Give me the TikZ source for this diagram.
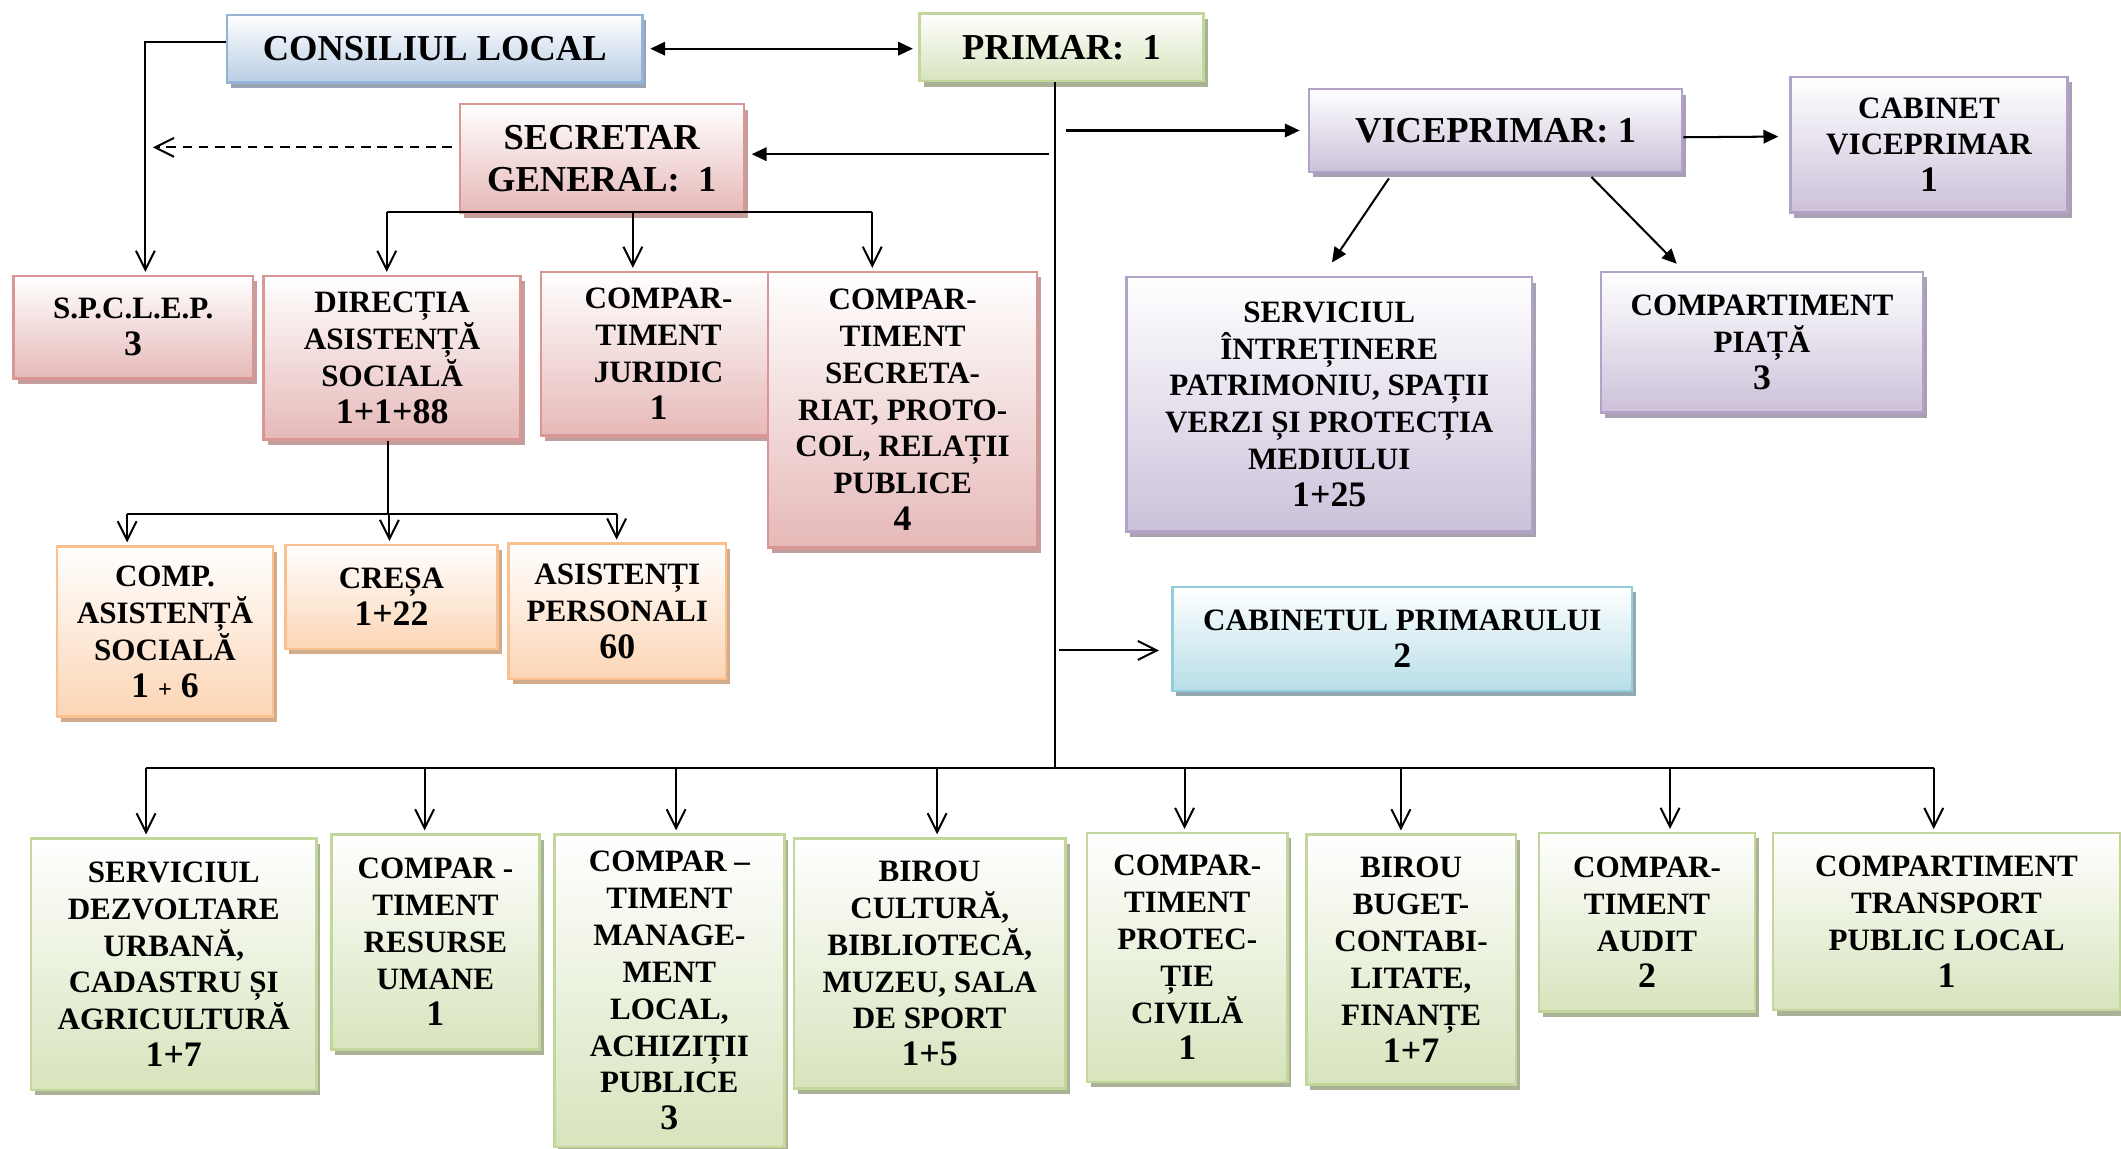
\documentclass[tikz,border=0pt]{standalone}
\usepackage{fontspec}
\setmainfont{Liberation Serif}
\usetikzlibrary{arrows.meta,shadows}
\definecolor{rbot}{HTML}{E6B9B8}\definecolor{rbrd}{HTML}{D99694}\definecolor{rsh}{HTML}{C49E9D}
\definecolor{bbot}{HTML}{B9CDE5}\definecolor{bbrd}{HTML}{95B3D7}\definecolor{bsh}{HTML}{98A4B3}
\definecolor{gbot}{HTML}{D7E4BD}\definecolor{gbrd}{HTML}{C3D69B}\definecolor{gsh}{HTML}{A9B296}
\definecolor{pbot}{HTML}{CCC1DA}\definecolor{pbrd}{HTML}{B3A2C7}\definecolor{psh}{HTML}{A8A0B3}
\definecolor{obot}{HTML}{FCD5B5}\definecolor{obrd}{HTML}{FAC090}\definecolor{osh}{HTML}{D0AB8C}
\definecolor{cbot}{HTML}{B7DEE8}\definecolor{cbrd}{HTML}{93CDDD}\definecolor{csh}{HTML}{93A9AF}
\newcommand\nm[1]{{\fontsize{26.5}{27.3}\selectfont #1}}
\newcommand\bxn[7]{\node[#2, minimum width={(#5-#3)*1pt}, minimum height={(#6-#4)*1pt}] (#1) at ({(#3+#5)/2},{(#4+#6)/2}) {#7};}
\tikzset{
  box/.style n args={3}{draw=#2, line width=1.8pt, top color=white, bottom color=#1,
    drop shadow={shadow xshift=3pt, shadow yshift=-4pt, fill=#3, opacity=1},
    align=center, inner sep=1pt, text=black, font=\bfseries\fontsize{23}{27.3}\selectfont},
  redbox/.style={box={rbot}{rbrd}{rsh}},
  bluebox/.style={box={bbot}{bbrd}{bsh}},
  greenbox/.style={box={gbot}{gbrd}{gsh}},
  purplebox/.style={box={pbot}{pbrd}{psh}},
  orangebox/.style={box={obot}{obrd}{osh}},
  cyanbox/.style={box={cbot}{cbrd}{csh}},
  bigtext/.style={font=\bfseries\fontsize{27}{31}\selectfont},
  conn/.style={draw=black, line width=1.5pt},
  oa/.style={-{Straight Barb[length=14pt,width=14pt,line width=1.5pt]}, shorten >=2pt},
  fa/.style={-{Triangle[length=11pt,width=10pt]}},
}
\begin{document}
\begin{tikzpicture}[x=1pt,y=-1pt]
\useasboundingbox (0,0) rectangle (1568.5,849);
% top row
\bxn{cl}{bluebox,bigtext}{168}{11}{475}{61}{CONSILIUL LOCAL}
\bxn{primar}{greenbox,bigtext}{680}{10}{890}{60}{PRIMAR:\ \ 1}
\bxn{sg}{redbox,bigtext}{340}{77}{550}{157}{SECRETAR\\GENERAL:\ \ 1}
\bxn{vp}{purplebox,bigtext}{968}{66}{1244}{127}{VICEPRIMAR: 1}
\bxn{cvp}{purplebox}{1324}{57}{1529}{157}{CABINET\\VICEPRIMAR\\\nm{1}}
% second row
\bxn{spclep}{redbox}{10}{204}{187}{280}{S.P.C.L.E.P.\\\nm{3}}
\bxn{dir}{redbox}{195}{204}{385}{325}{DIRECȚIA\\ASISTENȚĂ\\SOCIALĂ\\\nm{1+1+88}}
\bxn{jur}{redbox}{400}{201}{574}{322}{COMPAR-\\TIMENT\\JURIDIC\\\nm{1}}
\bxn{secr}{redbox}{568}{201}{767}{405}{COMPAR-\\TIMENT\\SECRETA-\\RIAT, PROTO-\\COL, RELAȚII\\PUBLICE\\\nm{4}}
\bxn{sip}{purplebox}{833}{205}{1133}{393}{SERVICIUL\\ÎNTREȚINERE\\PATRIMONIU, SPAȚII\\VERZI ȘI PROTECȚIA\\MEDIULUI\\\nm{1+25}}
\bxn{piata}{purplebox}{1184}{201}{1422}{305}{COMPARTIMENT\\PIAȚĂ\\\nm{3}}
% third row
\bxn{cas}{orangebox}{42}{404}{202}{530}{COMP.\\ASISTENȚĂ\\SOCIALĂ\\\nm{1 {\fontsize{18}{20}\selectfont +} 6}}
\bxn{cresa}{orangebox}{211}{403}{368}{480}{CREȘA\\\nm{1+22}}
\bxn{ap}{orangebox}{376}{402}{537}{502}{ASISTENȚI\\PERSONALI\\\nm{60}}
\bxn{cp}{cyanbox}{867}{434}{1207}{511}{CABINETUL PRIMARULUI\\\nm{2}}
% bottom row
\bxn{sdu}{greenbox}{23}{620}{234}{806}{SERVICIUL\\DEZVOLTARE\\URBANĂ,\\CADASTRU ȘI\\AGRICULTURĂ\\\nm{1+7}}
\bxn{ru}{greenbox}{245}{617}{399}{776}{COMPAR -\\TIMENT\\RESURSE\\UMANE\\\nm{1}}
\bxn{ml}{greenbox}{410}{617}{580}{848}{COMPAR –\\TIMENT\\MANAGE-\\MENT\\LOCAL,\\ACHIZIȚII\\PUBLICE\\\nm{3}}
\bxn{bc}{greenbox}{587}{620}{788}{805}{BIROU\\CULTURĂ,\\BIBLIOTECĂ,\\MUZEU, SALA\\DE SPORT\\\nm{1+5}}
\bxn{pc}{greenbox}{804}{616}{952}{800}{COMPAR-\\TIMENT\\PROTEC-\\ȚIE\\CIVILĂ\\\nm{1}}
\bxn{bb}{greenbox}{966}{617}{1121}{802}{BIROU\\BUGET-\\CONTABI-\\LITATE,\\FINANȚE\\\nm{1+7}}
\bxn{au}{greenbox}{1138}{616}{1298}{748}{COMPAR-\\TIMENT\\AUDIT\\\nm{2}}
\bxn{tr}{greenbox}{1311}{616}{1568}{747}{COMPARTIMENT\\TRANSPORT\\PUBLIC LOCAL\\\nm{1}}
% coordinates
\coordinate (trunkbot) at (780,569);
\coordinate (t1) at (776,114);
\coordinate (t2) at (788,96.5);
\coordinate (t3) at (783,481);
\coordinate (dend) at (111,109);
\coordinate (sgl) at (286,157);
\coordinate (sgr) at (645,157);
\coordinate (dl) at (94,380);
\coordinate (dr) at (456,380);
\coordinate (bl) at (108,568);
\coordinate (br) at (1430,568);
% connectors
\draw[conn,oa] ([yshift=5pt]cl.west) -| ([xshift=9pt]spclep.north);
\draw[conn,{Triangle[length=11pt,width=10pt]}-{Triangle[length=11pt,width=10pt]}] ([xshift=5pt]cl.east) -- ([xshift=-4pt,yshift=-1pt]primar.west);
\draw[conn,line width=1.3pt] ([xshift=-5pt]primar.south) -- (trunkbot);
\draw[conn,fa] (t1) -- ([xshift=5pt,yshift=3pt]sg.east);
\draw[conn,fa] (t2) -- ([xshift=-6pt]vp.west);
\draw[conn,fa] ([yshift=-5pt]vp.east) -- ([xshift=-8pt,yshift=6pt]cvp.west);
\draw[conn,fa] ([xshift=60pt,yshift=-4pt]vp.south west) -- ([xshift=2pt,yshift=10pt]sip.north);
\draw[conn,fa] ([xshift=-68pt,yshift=-3pt]vp.south east) -- ([xshift=-63pt,yshift=5pt]piata.north);
\draw[conn,dashed,dash pattern=on 7pt off 5pt,oa] ([xshift=-5pt,yshift=8pt]sg.west) -- (dend);
\draw[conn,oa] (t3) -- ([xshift=-7pt,yshift=-8.5pt]cp.west);
% secretar bus
\draw[conn] (sgl) -- (sgr);
\draw[conn,oa] (sgl) -- (sgl |- dir.north);
\draw[conn,oa] (468,157) -- (468,157 |- jur.north);
\draw[conn,oa] (sgr) -- (sgr |- secr.north);
% directia bus
\draw[conn] (dir.south -| 287,0) -- (287,380);
\draw[conn] (dl) -- (dr);
\draw[conn,oa] (dl) -- (dl |- cas.north);
\draw[conn,oa] (288,380) -- (288,380 |- cresa.north);
\draw[conn,oa] (dr) -- (dr |- ap.north);
% bottom bus
\draw[conn] (bl) -- (br);
\draw[conn,oa] (bl) -- (bl |- sdu.north);
\draw[conn,oa] (314,568) -- (314,568 |- ru.north);
\draw[conn,oa] (500,568) -- (500,568 |- ml.north);
\draw[conn,oa] (693,568) -- (693,568 |- bc.north);
\draw[conn,oa] (876,568) -- (876,568 |- pc.north);
\draw[conn,oa] (1036,568) -- (1036,568 |- bb.north);
\draw[conn,oa] (1235,568) -- (1235,568 |- au.north);
\draw[conn,oa] (br) -- (br |- tr.north);
\end{tikzpicture}
\end{document}
